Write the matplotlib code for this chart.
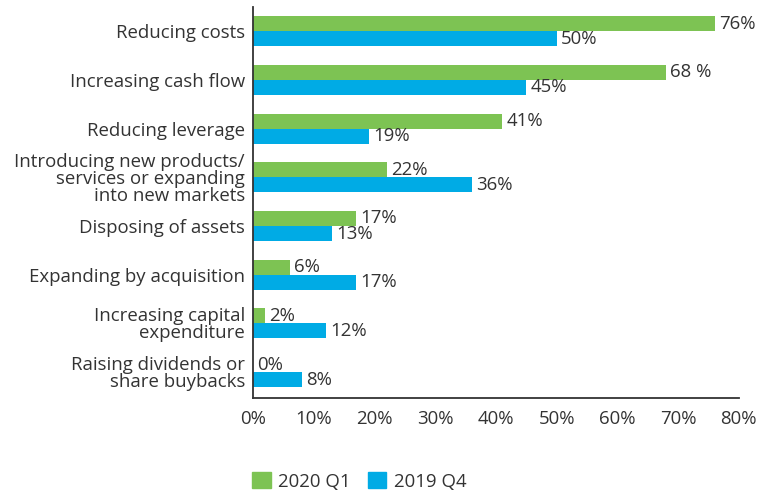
import numpy as np
import matplotlib
matplotlib.use("Agg")
import matplotlib.pyplot as plt
from matplotlib.patches import Patch

# data
categories = [
    "Reducing costs",
    "Increasing cash flow",
    "Reducing leverage",
    "Introducing new products/\nservices or expanding\ninto new markets",
    "Disposing of assets",
    "Expanding by acquisition",
    "Increasing capital\nexpenditure",
    "Raising dividends or\nshare buybacks",
]
q1_2020 = [76, 68, 41, 22, 17, 6, 2, 0]
q4_2019 = [50, 45, 19, 36, 13, 17, 12, 8]
q1_labels = ["76%", "68 %", "41%", "22%", "17%", "6%", "2%", "0%"]
q4_labels = ["50%", "45%", "19%", "36%", "13%", "17%", "12%", "8%"]
xticks = [0, 10, 20, 30, 40, 50, 60, 70, 80]
series_names = ["2020 Q1", "2019 Q4"]

green = "#7dc353"
blue = "#00abe5"
txt = "#333333"
fs = 13.4

plt.rcParams["font.family"] = ["Open Sans", "DejaVu Sans"]
plt.rcParams["font.size"] = fs

fig = plt.figure(figsize=(7.72, 4.93), dpi=100)
ax = fig.add_axes([0.328, 0.193, 0.629, 0.793])

y = np.arange(len(categories))
h = 0.31
ax.barh(y - h / 2, q1_2020, height=h, color=green)
ax.barh(y + h / 2, q4_2019, height=h, color=blue)

for i in range(len(categories)):
    ax.text(q1_2020[i] + 0.7, y[i] - h / 2, q1_labels[i], va="center", ha="left",
            color=txt, fontsize=fs)
    ax.text(q4_2019[i] + 0.7, y[i] + h / 2, q4_labels[i], va="center", ha="left",
            color=txt, fontsize=fs)

ax.set_ylim(len(categories) - 0.47, -0.5)
ax.set_xlim(0, 80)
ax.set_yticks(y)
ax.set_yticklabels(categories, color=txt, fontsize=fs, linespacing=0.93)
ax.set_xticks(xticks)
ax.set_xticklabels([f"{t}%" for t in xticks], color=txt, fontsize=fs)
ax.tick_params(axis="y", length=0, pad=6)
ax.tick_params(axis="x", length=0, pad=9)

for s in ["top", "right"]:
    ax.spines[s].set_visible(False)
for s in ["left", "bottom"]:
    ax.spines[s].set_color("#333333")
    ax.spines[s].set_linewidth(1.3)

handles = [Patch(color=green), Patch(color=blue)]
fig.legend(handles, series_names, loc="center left", bbox_to_anchor=(0.31, 0.024),
           ncol=2, frameon=False, handlelength=1.0, handleheight=1.0,
           handletextpad=0.4, columnspacing=0.9, fontsize=fs, labelcolor=txt,
           borderpad=0.2)

fig.savefig("out.png", dpi=100)
